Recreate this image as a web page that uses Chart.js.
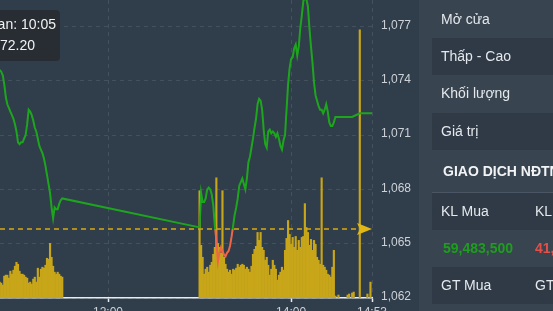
<!DOCTYPE html>
<html>
<head>
<meta charset="utf-8">
<script src="https://cdn.jsdelivr.net/npm/chart.js"></script>
<style>
  html, body { margin: 0; padding: 0; width: 553px; height: 311px; overflow: hidden; background: #38444f; font-family: Arial, "Liberation Sans", sans-serif; }
  #chartBox { position: absolute; left: 0; top: 0; width: 420px; height: 320px; background: #303d4b; }
  #panel { position: absolute; left: 419px; top: 0; width: 134px; height: 311px; background: #38444f; }
  .row { position: absolute; left: 13px; width: 200px; height: 37px; line-height: 37px; padding-left: 9px; color: #e4e8ec; font-size: 14px; white-space: nowrap; }
  .dark { background: #2f3a46; }
  .col2 { position: absolute; left: 103px; top: 0; }
  .head { font-weight: bold; color: #f2f4f6; padding-left: 11px; }
  .sep { position: absolute; left: 13px; width: 200px; top: 192px; height: 1px; background: #4a5663; }
  .up { color: #1e9e1e; font-weight: bold; padding-left: 11px; }
  .down { color: #e2504a; font-weight: bold; }
</style>
</head>
<body>
<div id="chartBox"><canvas id="chart" width="420" height="320"></canvas></div>
<div id="panel">
  <div class="row" style="top:1px">Mở cửa</div>
  <div class="row dark" style="top:38px">Thấp - Cao</div>
  <div class="row" style="top:75px">Khối lượng</div>
  <div class="row dark" style="top:113px">Giá trị</div>
  <div class="row head" style="top:153px">GIAO DỊCH NĐTNN</div>
  <div class="sep"></div>
  <div class="row dark" style="top:193px">KL Mua<span class="col2">KL Bán</span></div>
  <div class="row up" style="top:230px">59,483,500<span class="col2 down" style="left:103px">41,</span></div>
  <div class="row dark" style="top:267px">GT Mua<span class="col2">GT Bán</span></div>
</div>
<script>
// giá tham chiếu (đường nét đứt)
const refPrice = 1065.8;

// khớp lệnh theo phút - phiên sáng (từ 10:47) và phiên chiều (từ 13:00)
const morningStart = '10:47';
const morningPrices = [
  1074.9, 1074.7,
  1074.6, 1074.5, 1074.3, 1073.8, 1073.1, 1072.7, 1072.5, 1072.3, 1072.1, 1071.9,
  1071.6, 1071.2, 1070.6, 1070.5, 1070.6, 1070.6, 1070.8, 1071.0, 1071.6, 1072.4,
  1072.3, 1072.1, 1071.8, 1071.4, 1071.2, 1070.8, 1070.4, 1070.2, 1070.0, 1069.7,
  1069.3, 1068.8, 1068.3, 1067.8, 1067.0, 1066.4, 1067.0, 1066.9, 1066.9, 1067.2,
  1067.4, 1067.5
];
const afternoonStart = '13:00';
const afternoonPrices = [
  1065.9, 1067.8, 1067.3, 1067.3, 1067.5, 1068.0, 1068.1, 1068.0, 1067.7, 1067.1,
  1066.0, 1065.2, 1064.0, 1064.5, 1064.8, 1064.6, 1064.4, 1064.3, 1064.5, 1064.6,
  1064.9, 1065.4, 1066.0, 1066.6, 1067.0, 1067.5, 1068.2, 1068.4, 1068.6, 1068.3,
  1068.0, 1068.6, 1069.5, 1069.8, 1070.3, 1070.8, 1071.4, 1071.9, 1072.7, 1073.0,
  1072.9, 1072.4, 1071.3, 1070.5, 1070.3, 1071.2, 1071.3, 1071.1, 1071.2, 1071.1,
  1070.9, 1071.1, 1070.8, 1070.4, 1070.2, 1070.7, 1071.0, 1072.4, 1073.8, 1074.7,
  1075.2, 1075.3, 1075.8, 1076.0, 1075.4, 1075.9, 1076.9, 1077.6, 1078.4, 1078.6,
  1078.5, 1078.1, 1076.9, 1075.9, 1075.0, 1073.9, 1073.2, 1072.9, 1072.6, 1072.4,
  1072.4, 1072.2, 1072.4, 1072.7, 1072.3, 1071.7, 1071.5, 1071.5, 1071.7, 1072.0,
  1072.0
];
const lateTimes = ['14:40', '14:45', '14:53'];
const latePrices = [1072.0, 1072.2, 1072.2];

// khối lượng (chục nghìn cp) theo phút
const morningVolStart = '10:49';
const morningVolumes = [
  16, 15, 13, 22, 23, 23, 20, 27, 24, 28, 32, 36, 34, 27, 24, 24, 23, 21, 20, 15,
  16, 14, 19, 21, 16, 30, 21, 29, 31, 30, 33, 40, 39, 55, 41, 32, 26, 24, 26, 24,
  22, 21
];
const afternoonVolStart = '13:00';
const afternoonVolumes = [
  108, 53, 41, 24, 29, 31, 26, 33, 36, 44, 51, 121, 55, 51, 45, 108, 41, 34, 29, 26,
  28, 24, 29, 28, 30, 34, 31, 33, 34, 33, 29, 31, 29, 26, 32, 44, 49, 52, 66, 58,
  66, 51, 48, 38, 41, 33, 23, 29, 38, 33, 29, 18, 23, 26, 31, 28, 48, 60, 78, 64,
  54, 61, 51, 62, 48, 58, 51, 61, 62, 95, 71, 66, 53, 59, 48, 58, 54, 41, 38, 34,
  121, 33, 31, 28, 24, 23, 21, 31, 48, 2
];
const lateVolTimes = ['14:31', '14:37', '14:38', '14:40', '14:41', '14:45', '14:50', '14:52'];
const lateVolumes = [3, 3, 4, 5, 6, 270, 4, 16];

const xTickTimes = ['12:00', '14:00', '14:53'];
const priceTicks = [1062, 1065, 1068, 1071, 1074, 1077];

const GREEN = '#1ea51e';
const RED = '#ef6548';
const GOLD = '#c8a619';

function toMin(t) {
  const p = t.split(':');
  return (+p[0]) * 60 + (+p[1]) - 540;
}
function fmtTime(m) {
  const h = Math.floor((m + 540) / 60), mm = Math.round((m + 540) % 60);
  return h + ':' + String(mm).padStart(2, '0');
}

const priceData = [];
morningPrices.forEach((p, i) => priceData.push({ x: toMin(morningStart) + i, y: p }));
afternoonPrices.forEach((p, i) => priceData.push({ x: toMin(afternoonStart) + i, y: p }));
lateTimes.forEach((t, i) => priceData.push({ x: toMin(t), y: latePrices[i] }));

const volData = [];
morningVolumes.forEach((v, i) => volData.push({ x: toMin(morningVolStart) + i, y: v }));
afternoonVolumes.forEach((v, i) => volData.push({ x: toMin(afternoonVolStart) + i, y: v }));
lateVolTimes.forEach((t, i) => volData.push({ x: toMin(t), y: lateVolumes[i] }));

function lineColor(context) {
  const chart = context.chart;
  const area = chart.chartArea;
  if (!area) return GREEN;
  const yRef = chart.scales.y.getPixelForValue(refPrice);
  const s = Math.min(1, Math.max(0, (yRef - area.top) / (area.bottom - area.top)));
  const g = chart.ctx.createLinearGradient(0, area.top, 0, area.bottom);
  g.addColorStop(0, GREEN);
  g.addColorStop(s, GREEN);
  g.addColorStop(s, RED);
  g.addColorStop(1, RED);
  return g;
}

// bỏ phần đệm tự động của trục để vùng vẽ bắt đầu từ mép trên
function noPad(s) {
  s.paddingTop = 0;
  s.paddingBottom = 0;
  s.paddingLeft = 0;
  s.paddingRight = 0;
}

// đường tham chiếu + mũi tên, và hộp thông tin
const overlay = {
  id: 'overlay',
  afterDatasetDraw(chart, args) {
    if (args.index !== 1) return;
    const { ctx, chartArea, scales } = chart;
    const y = Math.round(scales.y.getPixelForValue(refPrice));
    const tip = chartArea.right;
    ctx.save();
    ctx.strokeStyle = '#d8ab10';
    ctx.lineWidth = 1.6;
    ctx.setLineDash([5, 4]);
    ctx.beginPath();
    ctx.moveTo(chartArea.left, y);
    ctx.lineTo(tip - 14, y);
    ctx.stroke();
    ctx.setLineDash([]);
    ctx.fillStyle = '#e2b914';
    ctx.beginPath();
    ctx.moveTo(tip, y);
    ctx.lineTo(tip - 15, y - 6);
    ctx.lineTo(tip - 12, y);
    ctx.lineTo(tip - 15, y + 6);
    ctx.closePath();
    ctx.fill();
    ctx.restore();
  },
  afterDraw(chart) {
    const ctx = chart.ctx;
    ctx.save();
    ctx.fillStyle = 'rgba(40,44,51,0.95)';
    ctx.beginPath();
    ctx.roundRect(-20, 10, 80, 51, 4);
    ctx.fill();
    ctx.fillStyle = '#f2f2f2';
    ctx.font = '14px Arial, "Liberation Sans", sans-serif';
    ctx.textAlign = 'right';
    ctx.textBaseline = 'middle';
    ctx.fillText('Thời gian: 10:05', 56, 25);
    ctx.fillText('Giá: 1,072.20', 35, 46);
    ctx.restore();
  }
};

new Chart(document.getElementById('chart'), {
  type: 'line',
  data: {
    datasets: [
      {
        type: 'line',
        data: priceData,
        borderColor: lineColor,
        borderWidth: 2,
        pointRadius: 0,
        tension: 0,
        yAxisID: 'y',
        order: 0
      },
      {
        type: 'bar',
        data: volData,
        backgroundColor: GOLD,
        barThickness: 1.5,
        yAxisID: 'v',
        order: 1
      }
    ]
  },
  options: {
    responsive: false,
    animation: false,
    layout: { padding: 0 },
    plugins: { legend: { display: false }, tooltip: { enabled: false } },
    scales: {
      x: {
        type: 'linear',
        min: toMin('10:49') + 0.2,
        max: toMin('14:53'),
        offset: false,
        afterBuildTicks: s => { s.ticks = xTickTimes.map(t => ({ value: toMin(t) })); },
        afterFit: s => { s.height = 22; noPad(s); },
        ticks: { color: '#cdd2d8', font: { size: 12, family: 'Arial' }, padding: 3, maxRotation: 0, autoSkip: false, callback: v => fmtTime(v) },
        grid: { offset: false, color: 'rgba(255,255,255,0.10)', drawTicks: true, tickLength: 4, tickColor: '#e8ecf0', tickWidth: 1.5 },
        border: { display: true, color: '#e8ecf0', width: 1.5, dash: [4, 4] }
      },
      y: {
        position: 'right',
        min: 1062,
        max: 1078.46,
        afterBuildTicks: s => { s.ticks = priceTicks.map(v => ({ value: v })); },
        afterFit: s => { s.width = 48; noPad(s); },
        ticks: { color: '#cdd2d8', font: { size: 12, family: 'Arial' }, padding: 9, labelOffset: -1, callback: v => v.toLocaleString('en-US') },
        grid: { color: 'rgba(255,255,255,0.10)', drawTicks: false },
        border: { display: false, dash: [4, 4] }
      },
      v: {
        display: false,
        min: 0,
        max: 300
      }
    }
  },
  plugins: [overlay]
});
</script>
</body>
</html>
